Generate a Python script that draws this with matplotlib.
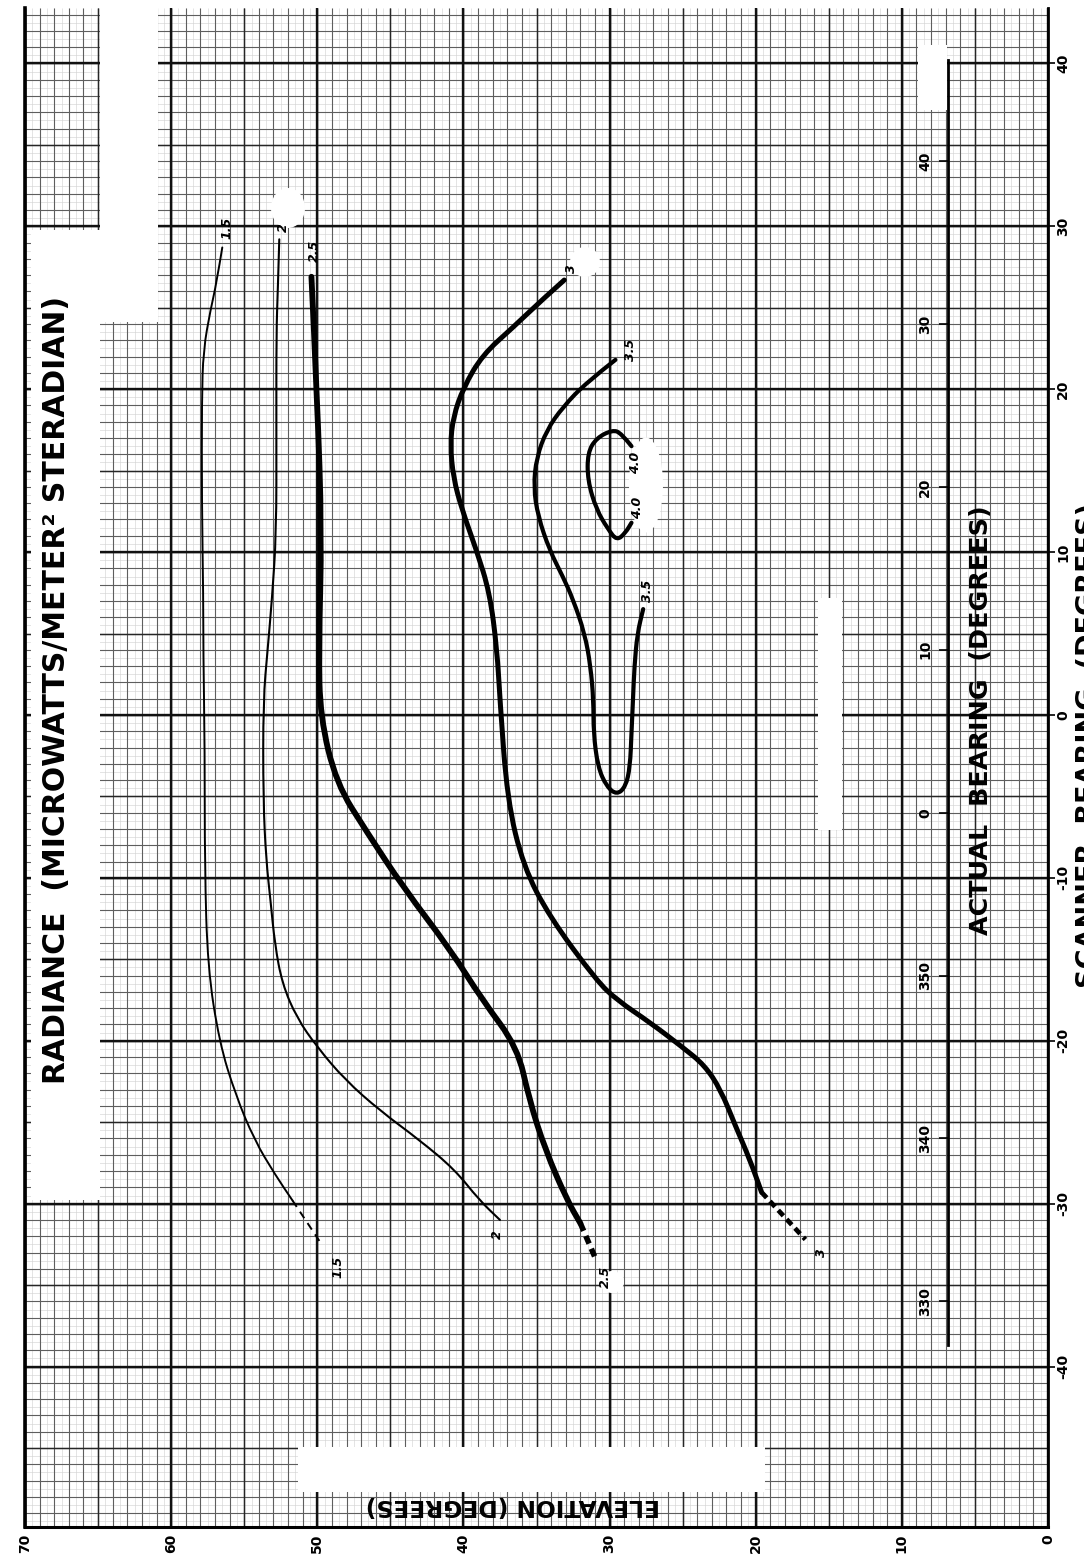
import matplotlib
matplotlib.use("Agg")
import matplotlib.pyplot as plt
from matplotlib.patches import Rectangle, Ellipse, PathPatch
from matplotlib.path import Path
import numpy as np

# contour lines: elevation (deg), actual bearing (deg)
r15_elev = [56.5, 56.9, 57.3, 57.8, 57.9, 57.9, 57.8, 57.8, 57.7, 57.7, 57.5, 56.7, 55.6, 54.3, 52.9, 51.7]
r15_bear = [28.7, 26.5, 24.9, 22.4, 19.3, 13.2, 7.1, 4.0, -2.2, -9.3, -15.5, -20.1, -23.3, -26.1, -28.2, -29.8]
r15_tail_elev = [51.7, 49.7]
r15_tail_bear = [-29.8, -32.5]

r20_elev = [52.6, 52.7, 52.8, 52.8, 52.8, 53.1, 53.4, 53.7, 53.7, 53.5, 53.2, 52.9, 52.4, 51.4, 50.0,
            48.1, 45.7, 43.0, 40.6, 38.9, 37.5]
r20_bear = [29.2, 26.1, 23.5, 17.3, 11.2, 7.1, 4.0, 0.9, -5.2, -8.9, -11.4, -14.1, -16.5, -18.6, -20.4,
            -22.4, -24.3, -26.1, -27.9, -29.8, -31.0]

r25_elev = [50.4, 50.0, 49.7, 49.9, 49.8, 48.7, 46.6, 44.1, 40.9, 38.7, 36.3, 35.5, 34.4, 32.9, 32.0]
r25_bear = [26.9, 19.3, 11.2, 4.0, -0.1, -4.2, -7.2, -10.6, -14.4, -17.5, -20.4, -23.6, -26.7, -29.8, -31.2]
r25_tail_elev = [32.0, 30.9]
r25_tail_bear = [-31.2, -33.5]

r30_elev = [33.1, 34.6, 36.6, 38.7, 40.0, 40.7, 40.9, 40.7, 40.1, 39.1, 38.2, 37.7, 37.5, 37.0, 35.9,
            34.1, 30.9, 29.5, 27.2, 25.0, 23.5, 22.4, 21.4, 20.4, 19.6]
r30_bear = [26.7, 25.5, 23.8, 22.1, 20.1, 18.3, 16.6, 14.6, 12.6, 10.1, 7.5, 4.0, 0.9, -5.2, -9.3,
            -12.4, -16.3, -17.5, -18.9, -20.4, -21.5, -23.0, -25.2, -27.3, -29.3]
r30_tail_elev = [19.6, 16.6]
r30_tail_bear = [-29.3, -32.2]

r35_elev = [29.6, 31.6, 33.2, 34.3, 35.0, 35.2, 34.9, 34.1, 33.2, 32.5, 31.7, 31.3, 31.1, 31.1, 30.8,
            30.2, 29.5, 28.9, 28.6, 28.5, 28.4, 28.3, 28.1, 27.7]
r35_bear = [21.8, 20.4, 18.9, 17.5, 15.8, 14.0, 12.2, 10.1, 8.5, 7.1, 5.0, 3.0, 0.9, -1.1, -3.2,
            -4.4, -4.9, -4.4, -3.2, -1.1, 0.9, 3.0, 5.0, 6.5]

r40_elev = [28.5, 29.2, 29.8, 30.9, 31.5, 31.5, 30.9, 30.1, 29.5, 28.9, 28.5]
r40_bear = [16.5, 17.3, 17.5, 17.0, 16.1, 14.4, 12.6, 11.4, 10.7, 11.2, 11.8]

# curve labels written on the sheet
label_text = ["1.5", "1.5", "2", "2", "2.5", "2.5", "3", "3", "3.5", "3.5", "4.0", "4.0"]
label_elev = [56.2, 48.6, 52.3, 37.7, 50.2, 30.3, 32.6, 15.5, 28.6, 27.4, 28.2, 28.1]
label_bear = [29.9, -33.9, 29.9, -31.9, 28.5, -34.5, 27.4, -33.0, 22.4, 7.6, 15.5, 12.7]

elev_ticks = [0, 10, 20, 30, 40, 50, 60, 70]
bearing_ticks = [40, 30, 20, 10, 0, -10, -20, -30, -40]
bearing_labels = ["40", "30", "20", "10", "0", "-10", "-20", "-30", "-40"]
scanner_pos = [34, 24, 14, 4, -6, -16, -26, -36]
scanner_labels = ["40", "30", "20", "10", "0", "350", "340", "330"]

W, H = 1084, 1557
fig = plt.figure(figsize=(W / 100, H / 100), dpi=100)
ax = fig.add_axes([25 / W, (H - 1527) / H, (1048 - 25) / W, (1527 - 8) / H])
x0, x1 = 70, 0
y0, y1 = -49.85, 43.4
ax.set_xlim(x0, x1)
ax.set_ylim(y0, y1)

fonts = ["DejaVu Sans"]

# graph paper
for step, col, lw in [(0.5, "#d4d4d4", 0.45), (1, "#5e5e5e", 0.8), (5, "#262626", 1.05), (10, "#111111", 1.7)]:
    xs = np.arange(0, 70.001, step)
    ys = np.arange(np.ceil(y0 / step) * step, y1, step)
    ax.vlines(xs, y0, y1, colors=col, linewidth=lw, zorder=1)
    ax.hlines(ys, 0, 70, colors=col, linewidth=lw, zorder=1)


# white patches where the sheet was pasted over
def px_box(xa, ya, xb, yb):
    return Rectangle((xa / W, 1 - yb / H), (xb - xa) / W, (yb - ya) / H,
                     transform=fig.transFigure, facecolor="white", edgecolor="none",
                     zorder=2, clip_on=False)


for b in [(100, 0, 158, 322), (31, 230, 100, 1200), (298, 1447, 765, 1492),
          (818, 598, 842, 830), (918, 45, 947, 110)]:
    ax.add_artist(px_box(*b))
for cx, cy, w, h in [(288, 208, 34, 40), (585, 262, 30, 30), (646, 485, 34, 95), (612, 1282, 24, 22)]:
    ax.add_artist(Ellipse((cx / W, 1 - cy / H), w / W, h / H, transform=fig.transFigure,
                          facecolor="white", edgecolor="none", zorder=2, clip_on=False))


def smooth_line(xs, ys, lw):
    # quadratic bezier through the midpoints of the read points
    pts = list(zip(xs, ys))
    verts = [pts[0]]
    codes = [Path.MOVETO]
    for i in range(1, len(pts) - 1):
        mid = ((pts[i][0] + pts[i + 1][0]) / 2, (pts[i][1] + pts[i + 1][1]) / 2)
        verts += [pts[i], mid]
        codes += [Path.CURVE3, Path.CURVE3]
    verts.append(pts[-1])
    codes.append(Path.LINETO)
    ax.add_patch(PathPatch(Path(verts, codes), fill=False, edgecolor="black", lw=lw,
                           capstyle="round", joinstyle="round", zorder=3))


smooth_line(r15_elev, r15_bear, 1.4)
ax.plot(r15_tail_elev, r15_tail_bear, lw=1.4, linestyle=(0, (4, 3)), color="black", zorder=3)
smooth_line(r20_elev, r20_bear, 1.5)
smooth_line(r25_elev, r25_bear, 4.2)
ax.plot(r25_tail_elev, r25_tail_bear, lw=4.0, linestyle=(0, (1.5, 1)), color="black", zorder=3)
smooth_line(r30_elev, r30_bear, 3.6)
ax.plot(r30_tail_elev, r30_tail_bear, lw=3.4, linestyle=(0, (1.6, 1)), color="black", zorder=3)
smooth_line(r35_elev, r35_bear, 3.0)
smooth_line(r40_elev, r40_bear, 3.0)

for t, e, b in zip(label_text, label_elev, label_bear):
    ax.text(e, b, t, rotation=90, ha="center", va="center", fontsize=9,
            fontstyle="italic", fontweight="bold", zorder=4)

# scanner bearing scale
scan_x = 6.85
ax.plot([scan_x, scan_x], [40.2, -38.7], color="black", lw=2.0, zorder=3)
ax.hlines(scanner_pos, scan_x, scan_x + 0.6, colors="black", linewidth=1.2, zorder=3)
for p, t in zip(scanner_pos, scanner_labels):
    ax.text(8.4, p, t, rotation=90, ha="center", va="center", fontsize=10,
            fontweight="bold", family=fonts, zorder=4)

# frame and ticks
ax.spines["top"].set_visible(False)
ax.spines["left"].set_linewidth(2.6)
ax.spines["right"].set_linewidth(2.0)
ax.spines["bottom"].set_linewidth(2.2)
ax.set_xticks(elev_ticks)
ax.set_xticklabels([str(v) for v in elev_ticks], rotation=90, fontsize=10,
                   fontweight="bold", family=fonts)
ax.tick_params(axis="x", length=0, pad=5)
ax.yaxis.tick_right()
ax.set_yticks(bearing_ticks)
ax.set_yticklabels(bearing_labels, rotation=90, va="center", fontsize=10,
                   fontweight="bold", family=fonts)
ax.tick_params(axis="y", length=5, width=1.2, direction="out", pad=1)

# titles
fig.text(57 / W, 1 - 690 / H, "RADIANCE  (MICROWATTS/METER\u00b2 STERADIAN)", rotation=90,
         ha="center", va="center", fontsize=21.5, fontweight="bold", family=fonts)
fig.text(981 / W, 1 - 720 / H, "ACTUAL  BEARING  (DEGREES)", rotation=90,
         ha="center", va="center", fontsize=18.3, fontweight="bold", family=fonts)
fig.text(1089 / W, 1 - 745 / H, "SCANNER  BEARING  (DEGREES)", rotation=90,
         ha="center", va="center", fontsize=19.5, fontweight="bold", family=fonts)
fig.text(513 / W, 1 - 1505 / H, "ELEVATION (DEGREES)", rotation=180,
         ha="center", va="center", fontsize=16.8, fontweight="bold", family=fonts, zorder=5)

fig.savefig("out.png", dpi=100)
